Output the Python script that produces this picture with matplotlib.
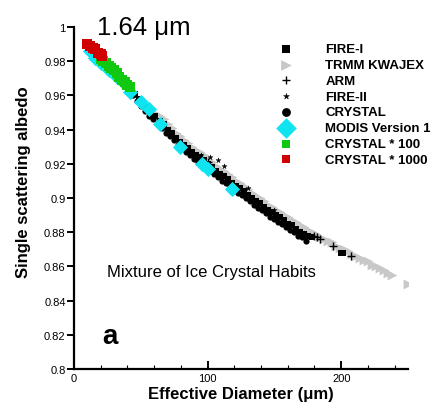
import matplotlib
matplotlib.use("Agg")
import matplotlib.pyplot as plt
from matplotlib.ticker import MultipleLocator, FuncFormatter

plt.rcParams['font.family'] = ['Liberation Sans', 'DejaVu Sans']

# ---- data ----
fire1_x = [43, 46, 49, 52, 55, 58, 61, 64, 67, 70, 73, 76, 79, 82, 85, 88, 91, 94, 97, 100,
           103, 106, 109, 112, 115, 118, 121, 124, 127, 130, 133, 136, 139, 142, 145, 148,
           151, 154, 157, 160, 163, 166, 169, 172, 175, 178, 200, 201]
fire1_y = [0.963, 0.961, 0.958, 0.955, 0.953, 0.950, 0.948, 0.945, 0.943, 0.940, 0.938,
           0.935, 0.933, 0.931, 0.929, 0.927, 0.925, 0.924, 0.922, 0.920, 0.918, 0.916,
           0.914, 0.913, 0.911, 0.909, 0.907, 0.906, 0.904, 0.902, 0.900, 0.898, 0.897,
           0.895, 0.893, 0.892, 0.890, 0.889, 0.887, 0.885, 0.884, 0.882, 0.880, 0.879,
           0.878, 0.877, 0.868, 0.868]

trmm_x = [58, 61, 64, 67, 70, 73, 76, 79, 82, 85, 88, 91, 94, 97, 100, 103, 106, 109, 112,
          115, 118, 121, 124, 127, 130, 133, 136, 139, 142, 145, 148, 151, 154, 157, 160,
          163, 166, 169, 172, 175, 178, 181, 184, 187, 190, 193, 196, 199, 202, 205, 208,
          211, 214, 217, 220, 223, 226, 229, 232, 235, 238, 250]
trmm_y = [0.952, 0.950, 0.948, 0.946, 0.943, 0.941, 0.938, 0.936, 0.934, 0.932, 0.930,
          0.928, 0.927, 0.925, 0.923, 0.921, 0.919, 0.917, 0.916, 0.914, 0.912, 0.910,
          0.909, 0.907, 0.905, 0.903, 0.901, 0.900, 0.898, 0.896, 0.895, 0.893, 0.892,
          0.890, 0.889, 0.887, 0.886, 0.884, 0.883, 0.881, 0.880, 0.879, 0.877, 0.876,
          0.875, 0.874, 0.872, 0.871, 0.870, 0.869, 0.867, 0.866, 0.865, 0.864, 0.863,
          0.861, 0.860, 0.859, 0.858, 0.856, 0.855, 0.850]

arm_x = [100, 160, 165, 170, 174, 180, 182, 184, 194, 207]
arm_y = [0.921, 0.884, 0.881, 0.879, 0.878, 0.878, 0.877, 0.876, 0.872, 0.866]

fire2_x = [59, 95, 102, 108, 112, 130, 150]
fire2_y = [0.948, 0.925, 0.924, 0.922, 0.919, 0.906, 0.893]

crystal_x = [44.5, 47.5, 50.5, 53.5, 56.5, 59.5, 62.5, 65.5, 68.5, 71.5, 74.5, 77.5, 80.5,
             83.5, 86.5, 89.5, 92.5, 95.5, 98.5, 101.5, 104.5, 107.5, 110.5, 113.5, 116.5,
             119.5, 122.5, 125.5, 128.5, 131.5, 134.5, 137.5, 140.5, 143.5, 146.5, 149.5,
             152.5, 155.5, 158.5, 161.5, 164.5, 167.5, 170.5, 173.5]
crystal_y = [0.960, 0.957, 0.954, 0.951, 0.948, 0.946, 0.943, 0.941, 0.938, 0.936, 0.934,
             0.931, 0.929, 0.927, 0.925, 0.923, 0.921, 0.920, 0.918, 0.916, 0.914, 0.912,
             0.910, 0.909, 0.907, 0.905, 0.903, 0.902, 0.900, 0.898, 0.896, 0.894, 0.893,
             0.891, 0.889, 0.888, 0.886, 0.885, 0.883, 0.881, 0.880, 0.878, 0.877, 0.875]

modis_x = [12, 16, 20, 26, 32, 37, 42, 50, 56, 64, 79, 96, 100, 118]
modis_y = [0.986, 0.982, 0.979, 0.975, 0.971, 0.968, 0.962, 0.956, 0.952, 0.943, 0.930,
           0.920, 0.917, 0.905]

c100_x = [20, 22, 24, 26, 28, 30, 32, 34, 36, 38, 40, 42]
c100_y = [0.981, 0.980, 0.979, 0.977, 0.976, 0.975, 0.973, 0.971, 0.969, 0.968, 0.966, 0.965]

c1000_x = [10, 12, 14, 16, 18, 20, 21]
c1000_y = [0.990, 0.989, 0.988, 0.987, 0.985, 0.984, 0.983]

# ---- figure ----
fig = plt.figure(figsize=(4.38, 4.14), dpi=100)
ax = fig.add_axes([74/438, 44/414, 334/438, 342/414])

cyan = '#10e4f0'
green = '#10c810'
red = '#d00000'
grey = '#c8c8c8'

h_trmm = ax.scatter(trmm_x, trmm_y, marker='>', s=50, color=grey, linewidths=0, zorder=1)
h_fire1 = ax.scatter(fire1_x, fire1_y, marker='s', s=22, color='black', linewidths=0, zorder=2)
h_crys = ax.scatter(crystal_x, crystal_y, marker='o', s=20, color='black', linewidths=0, zorder=2)
h_arm = ax.scatter(arm_x, arm_y, marker='+', s=30, color='black', linewidths=1.0, zorder=3)
h_fire2 = ax.scatter(fire2_x, fire2_y, marker='*', s=14, color='black', linewidths=0.3, zorder=3)
h_modis = ax.scatter(modis_x, modis_y, marker='D', s=60, color=cyan, linewidths=0, zorder=4)
h_c100 = ax.scatter(c100_x, c100_y, marker='s', s=45, color=green, linewidths=0, zorder=5)
h_c1000 = ax.scatter(c1000_x, c1000_y, marker='s', s=48, color=red, linewidths=0, zorder=6)

ax.set_xlim(0, 250)
ax.set_ylim(0.8, 1.0)
for s in ['top', 'right']:
    ax.spines[s].set_visible(False)
for s in ['left', 'bottom']:
    ax.spines[s].set_linewidth(1.6)

ax.xaxis.set_major_locator(MultipleLocator(100))
ax.xaxis.set_minor_locator(MultipleLocator(20))
ax.yaxis.set_major_locator(MultipleLocator(0.02))
ax.yaxis.set_major_formatter(FuncFormatter(lambda v, p: f"{v:g}"))
ax.tick_params(axis='x', which='major', direction='in', length=6, width=1.4,
               labelsize=8, pad=3)
ax.tick_params(axis='x', which='minor', direction='in', length=3, width=0.8)
ax.tick_params(axis='y', which='major', direction='out', length=5, width=1.4,
               labelsize=8, pad=1)

ax.set_xlabel('Effective Diameter (μm)', fontsize=12, fontweight='bold', labelpad=2)
ax.set_ylabel('Single scattering albedo', fontsize=12, fontweight='bold')
ax.yaxis.set_label_coords(-0.13, 0.55)

fig.text(97/438, 1 - 35/414, '1.64 μm', fontsize=18.5, ha='left', va='baseline')
ax.text(24.5, 0.857, 'Mixture of Ice Crystal Habits', fontsize=12, ha='left', va='center')
ax.text(21, 0.8195, 'a', fontsize=20, fontweight='bold', ha='left', va='center')

handles = [h_fire1, h_trmm, h_arm, h_fire2, h_crys, h_modis, h_c100, h_c1000]
labels = ['FIRE-I', 'TRMM KWAJEX', 'ARM', 'FIRE-II', 'CRYSTAL', 'MODIS Version 1',
          'CRYSTAL * 100', 'CRYSTAL * 1000']
leg = ax.legend(handles, labels, loc='upper left',
                bbox_to_anchor=(279/438, 1 - 44/414), bbox_transform=fig.transFigure,
                frameon=False, borderpad=0, borderaxespad=0, handlelength=1.0,
                handletextpad=2.5, labelspacing=0.27, scatterpoints=1,
                prop={'weight': 'bold', 'size': 9.5})
sizes = [40, 60, 40, 20, 40, 110, 40, 40]
for h, s in zip(leg.legend_handles, sizes):
    h.set_sizes([s])

fig.savefig('out.png', dpi=100)
